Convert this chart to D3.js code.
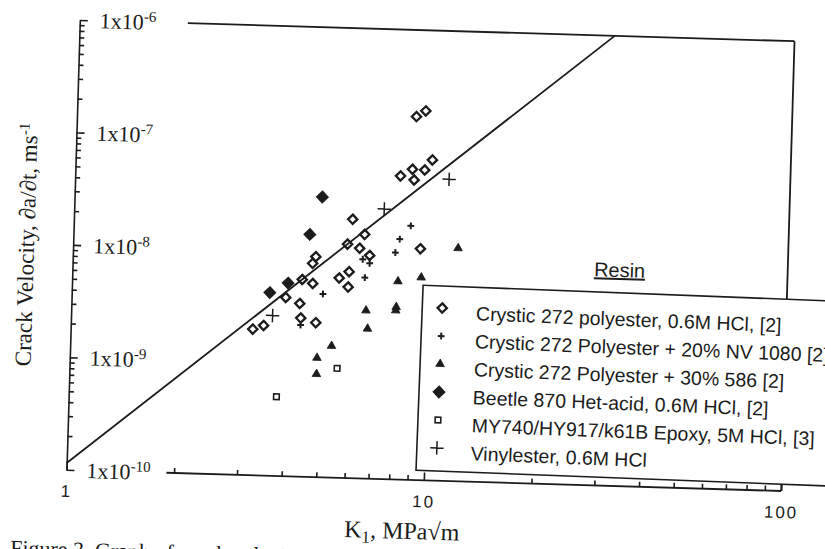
<!DOCTYPE html>
<html>
<head>
<meta charset="utf-8">
<script src="https://cdn.jsdelivr.net/npm/d3@7"></script>
<style>
  body { margin: 0; background: #fff; }
  svg { display: block; }
</style>
</head>
<body>
<script>
// values: K1 in MPa√m, crack velocity in m/s
let polyK = [8.90, 9.44, 8.12, 8.76, 8.87, 9.48, 9.94, 6.02, 6.52, 5.85, 6.33, 6.76, 9.36,
             4.78, 4.69, 5.94, 5.58, 5.92, 4.71, 4.40, 3.97, 4.35, 4.39, 4.84, 3.46, 3.23];
let polyV = [1.70e-7, 1.92e-7, 5.0e-8, 5.77e-8, 4.64e-8, 5.73e-8, 7.07e-8, 2.0e-8, 1.48e-8, 1.20e-8, 1.11e-8, 9.64e-9, 1.14e-8,
             9.1e-9, 7.93e-9, 6.83e-9, 5.97e-9, 4.99e-9, 5.25e-9, 5.66e-9, 3.88e-9, 3.46e-9, 2.57e-9, 2.36e-9, 2.16e-9, 1.99e-9];

let nvK = [8.76, 8.18, 7.97, 6.47, 6.77, 6.58, 5.04, 4.39];
let nvV = [1.81e-8, 1.37e-8, 1.04e-8, 8.88e-9, 8.22e-9, 6.10e-9, 4.26e-9, 2.23e-9];

let addK = [11.93, 8.15, 9.46, 6.67, 8.10, 8.08, 6.76, 5.38, 4.91, 4.91];
let addV = [1.18e-8, 5.78e-9, 6.34e-9, 3.12e-9, 3.41e-9, 3.18e-9, 2.15e-9, 1.48e-9, 1.15e-9, 8.25e-10];

let beetleK = [4.93, 4.58, 4.02, 3.58];
let beetleV = [3.10e-8, 1.43e-8, 5.22e-9, 4.25e-9];

let epoxyK = [5.60, 3.81];
let epoxyV = [9.39e-10, 5.06e-10];

let vinylK = [11.11, 7.36, 3.66];
let vinylV = [4.81e-8, 2.52e-8, 2.66e-9];

// the straight line drawn through the data
let fitK = [1, 31.4];
let fitV = [1.15e-10, 1e-6];

let legendLabels = [
    'Crystic 272 polyester, 0.6M HCl, [2]',
    'Crystic 272 Polyester + 20% NV 1080 [2]',
    'Crystic 272 Polyester + 30% 586 [2]',
    'Beetle 870 Het-acid, 0.6M HCl, [2]',
    'MY740/HY917/k61B Epoxy, 5M HCl, [3]',
    'Vinylester, 0.6M HCl'
];

let yMajor = [1e-6, 1e-7, 1e-8, 1e-9, 1e-10];
let yExp = ['-6', '-7', '-8', '-9', '-10'];
let xMajor = [1, 10, 100];
let xLabels = ['1', '10', '100'];

let ink = '#1c1c1c';
let serif = '"Liberation Serif", "DejaVu Serif", serif';
let sans = '"Liberation Sans", Arial, sans-serif';

let width = 715, height = 450;

let x = d3.scaleLog().domain([1, 100]).range([0, width]);
let y = d3.scaleLog().domain([1e-10, 1e-6]).range([height, 0]);

let svg = d3.select('body').append('svg')
    .attr('width', 825)
    .attr('height', 549);

// the scan is a little skewed, so the whole figure gets turned by ~1.7deg
let g = svg.append('g')
    .attr('transform', 'rotate(1.7, 430.75, 255.5) translate(73, 30.5)');

let isMajor = d => Math.abs(Math.log10(d) - Math.round(Math.log10(d))) < 1e-6;

// left axis, ticks pointing inwards
g.append('g')
    .call(d3.axisLeft(y).tickValues(y.ticks().filter(d => !isMajor(d))).tickSize(-5).tickSizeOuter(0).tickFormat(''))
    .call(a => a.selectAll('line, path').attr('stroke', ink).attr('stroke-width', 1.6));
g.append('g')
    .call(d3.axisLeft(y).tickValues(yMajor).tickSize(-8).tickFormat(''))
    .call(a => a.select('.domain').remove())
    .call(a => a.selectAll('line').attr('stroke', ink).attr('stroke-width', 1.6));

// bottom axis, the line starts after the 1x10-10 label
let axisStart = 100;
g.append('line')
    .attr('x1', axisStart).attr('x2', width)
    .attr('y1', height).attr('y2', height)
    .attr('stroke', ink).attr('stroke-width', 1.8);
g.append('g')
    .attr('transform', `translate(0, ${height})`)
    .call(d3.axisBottom(x).tickValues(x.ticks().filter(d => !isMajor(d))).tickSize(-5).tickFormat(''))
    .call(a => a.select('.domain').remove())
    .call(a => a.selectAll('line').attr('stroke', ink).attr('stroke-width', 1.6));
g.append('g')
    .attr('transform', `translate(0, ${height})`)
    .call(d3.axisBottom(x).tickValues(xMajor).tickSize(-8).tickPadding(15).tickFormat((d, i) => xLabels[i]))
    .call(a => a.select('.domain').remove())
    .call(a => a.selectAll('line').attr('stroke', ink).attr('stroke-width', 1.6))
    .call(a => a.selectAll('text')
        .attr('fill', ink)
        .style('font-family', sans)
        .style('font-size', '17px')
        .style('letter-spacing', '2px'));

// top and right edges of the frame
g.append('line')
    .attr('x1', 108).attr('x2', width)
    .attr('y1', 0).attr('y2', 0)
    .attr('stroke', ink).attr('stroke-width', 1.8);
g.append('line')
    .attr('x1', width).attr('x2', width)
    .attr('y1', 0).attr('y2', height)
    .attr('stroke', ink).attr('stroke-width', 1.8);

// y tick labels sit inside the frame
g.selectAll('.ylab')
    .data(yMajor)
    .join('text')
    .attr('class', 'ylab')
    .attr('x', 20)
    .attr('y', d => y(d))
    .attr('dy', '0.35em')
    .attr('fill', ink)
    .style('font-family', serif)
    .style('font-size', '22px')
    .text('1x10')
    .append('tspan')
    .attr('dy', -8)
    .style('font-size', '15px')
    .text((d, i) => yExp[i]);

// fitted line
g.append('path')
    .datum(d3.zip(fitK, fitV))
    .attr('d', d3.line().x(d => x(d[0])).y(d => y(d[1])))
    .attr('fill', 'none')
    .attr('stroke', ink)
    .attr('stroke-width', 1.8);

let series = [
    {k: polyK, v: polyV, type: d3.symbolDiamond2, size: 55, fill: 'none', sw: 2.3},
    {k: nvK, v: nvV, type: d3.symbolPlus, size: 17, fill: 'none', sw: 2},
    {k: addK, v: addV, type: d3.symbolTriangle, size: 32, fill: ink, sw: 0.8},
    {k: beetleK, v: beetleV, type: d3.symbolDiamond2, size: 80, fill: ink, sw: 1.5},
    {k: epoxyK, v: epoxyV, type: d3.symbolSquare2, size: 40, fill: 'none', sw: 1.6},
    {k: vinylK, v: vinylV, type: d3.symbolPlus, size: 60, fill: 'none', sw: 1.5}
];

series.forEach(s => {
    g.append('g')
        .selectAll('path')
        .data(d3.zip(s.k, s.v))
        .join('path')
        .attr('transform', d => `translate(${x(d[0])}, ${y(d[1])})`)
        .attr('d', d3.symbol(s.type, s.size))
        .attr('fill', s.fill)
        .attr('stroke', ink)
        .attr('stroke-width', s.sw);
});

// "Resin" heading and legend box
g.append('text')
    .attr('x', 547)
    .attr('y', 241)
    .attr('text-anchor', 'middle')
    .attr('fill', ink)
    .style('font-family', sans)
    .style('font-size', '20px')
    .style('text-decoration', 'underline')
    .text('Resin');

let legend = g.append('g')
    .attr('transform', 'translate(351, 255) rotate(0.5)');

legend.append('rect')
    .attr('width', 560)
    .attr('height', 185)
    .attr('fill', '#fff')
    .attr('stroke', ink)
    .attr('stroke-width', 1.6);

let rows = legend.selectAll('.row')
    .data(series)
    .join('g')
    .attr('class', 'row')
    .attr('transform', (d, i) => `translate(0, ${i * 28})`);

rows.append('path')
    .attr('transform', 'translate(20, 22)')
    .attr('d', d => d3.symbol(d.type, d.size)())
    .attr('fill', d => d.fill)
    .attr('stroke', ink)
    .attr('stroke-width', d => d.sw);

rows.append('text')
    .attr('x', 54)
    .attr('y', 33)
    .attr('fill', ink)
    .style('font-family', sans)
    .style('font-size', '19.5px')
    .text((d, i) => legendLabels[i]);

// axis titles
g.append('text')
    .attr('x', 337)
    .attr('y', 509)
    .attr('text-anchor', 'middle')
    .attr('fill', ink)
    .style('font-family', serif)
    .style('font-size', '24px')
    .call(t => {
        t.append('tspan').text('K');
        t.append('tspan').attr('dy', 5).style('font-size', '17px').text('1');
        t.append('tspan').attr('dy', -5).text(', MPa√m');
    });

g.append('text')
    .attr('transform', 'translate(-39, 226) rotate(-90)')
    .attr('text-anchor', 'middle')
    .attr('fill', ink)
    .style('font-family', serif)
    .style('font-size', '23px')
    .call(t => {
        t.append('tspan').text('Crack Velocity, ∂a/∂t, ms');
        t.append('tspan').attr('dy', -8).style('font-size', '15px').text('-1');
    });

// caption, cut off by the bottom of the page
g.append('text')
    .attr('x', -54)
    .attr('y', 537)
    .attr('fill', ink)
    .style('font-family', serif)
    .style('font-size', '22px')
    .text('Figure 3. Graph of crack velocity against stress intensity factor');
</script>
</body>
</html>
